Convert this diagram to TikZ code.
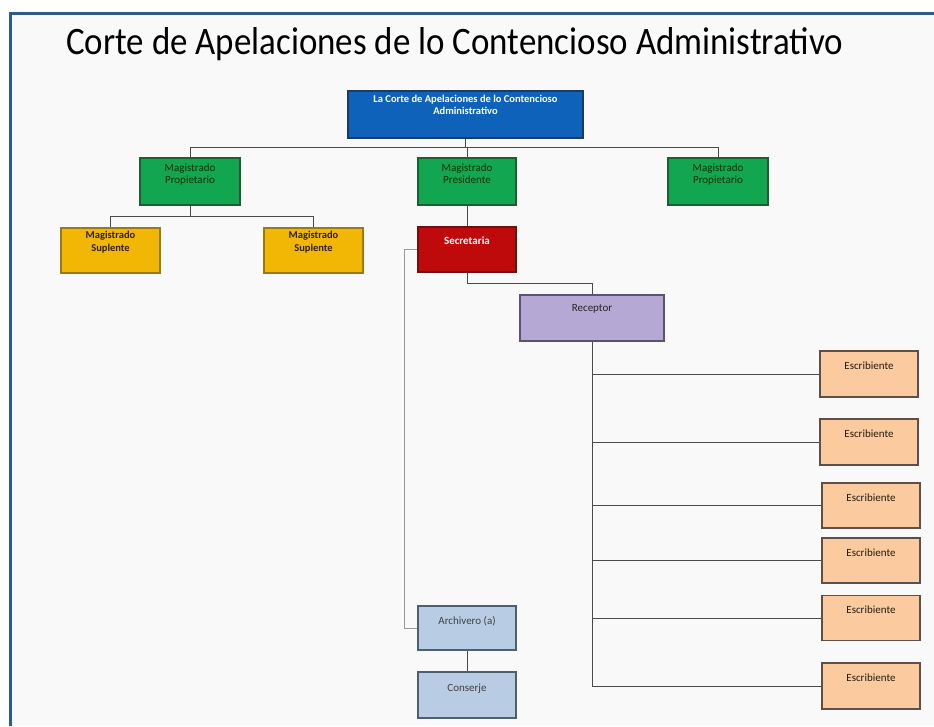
\documentclass[tikz,border=0pt]{standalone}
\usepackage{fontspec}
\setmainfont{Carlito}
\definecolor{frameblue}{HTML}{2B5C8A}
\definecolor{bgpanel}{HTML}{F9F9F9}
\definecolor{topblue}{HTML}{0E62BA}
\definecolor{topbord}{HTML}{1E3A5C}
\definecolor{mgreen}{HTML}{13A651}
\definecolor{mgreenb}{HTML}{1E5E34}
\definecolor{myellow}{HTML}{F2B705}
\definecolor{myellowb}{HTML}{9C7A10}
\definecolor{mred}{HTML}{BE0A0A}
\definecolor{mredb}{HTML}{6E1010}
\definecolor{mlav}{HTML}{B5A8D4}
\definecolor{mlavb}{HTML}{5A5470}
\definecolor{mpeach}{HTML}{FBCB9F}
\definecolor{mpeachb}{HTML}{5E5048}
\definecolor{mlblue}{HTML}{B8CDE4}
\definecolor{mlblueb}{HTML}{4F5F70}
\definecolor{conn}{HTML}{4A4A4A}
\definecolor{connlight}{HTML}{9A9A9A}
\tikzset{
  orgbox/.style={draw, line width=1.2pt, rectangle, inner sep=0pt},
  boxtxt/.style={anchor=north, inner sep=0pt, align=center, font=\fontsize{11}{12}\selectfont},
  wire/.style={draw=conn, line width=0.9pt},
  wirelight/.style={draw=connlight, line width=0.8pt}
}
\begin{document}
\begin{tikzpicture}[x=1pt,y=-1pt]
\useasboundingbox (0,0) rectangle (934,726);
\fill[white] (0,0) rectangle (934,726);
\fill[bgpanel] (11,13) rectangle (934,726);
\draw[frameblue, line width=3pt] (9,13) -- (934,13);
\draw[frameblue, line width=3pt] (10.5,11.5) -- (10.5,726);

\node[anchor=base west, inner sep=0pt] (title) at (66,54)
  {\resizebox{777pt}{27pt}{\fontsize{35}{40}\selectfont Corte de Apelaciones de lo Contencioso Administrativo}};

% boxes
\node[orgbox, fill=topblue, draw=topbord, minimum width=235pt, minimum height=47pt] (top) at (465.5,114.5) {};
\node[boxtxt, text=white, font=\bfseries\fontsize{10.5}{12}\selectfont] (toptxt) at ([yshift=-5]top.north) {La Corte de Apelaciones de lo Contencioso\\Administrativo};

\node[orgbox, fill=mgreen, draw=mgreenb, minimum width=100pt, minimum height=47pt] (g1) at (190,181.5) {};
\node[orgbox, fill=mgreen, draw=mgreenb, minimum width=98pt, minimum height=47pt] (g2) at (467,181.5) {};
\node[orgbox, fill=mgreen, draw=mgreenb, minimum width=100pt, minimum height=47pt] (g3) at (718,181.5) {};
\node[boxtxt, text=black!80!green] (g1t) at ([yshift=-6]g1.north) {Magistrado\\Propietario};
\node[boxtxt, text=black!80!green] (g2t) at ([yshift=-6]g2.north) {Magistrado\\Presidente};
\node[boxtxt, text=black!80!green] (g3t) at ([yshift=-6]g3.north) {Magistrado\\Propietario};

\node[orgbox, fill=myellow, draw=myellowb, minimum width=99pt, minimum height=45pt] (y1) at (110.5,250.5) {};
\node[orgbox, fill=myellow, draw=myellowb, minimum width=99pt, minimum height=45pt] (y2) at (313.5,250.5) {};
\node[boxtxt, text=black!75!brown, font=\bfseries\fontsize{10.5}{12.5}\selectfont] (y1t) at ([yshift=-4]y1.north) {Magistrado\\Suplente};
\node[boxtxt, text=black!75!brown, font=\bfseries\fontsize{10.5}{12.5}\selectfont] (y2t) at ([yshift=-4]y2.north) {Magistrado\\Suplente};

\node[orgbox, fill=mred, draw=mredb, minimum width=98pt, minimum height=45pt] (sec) at (467,249.5) {};
\node[boxtxt, text=white, font=\bfseries\fontsize{11}{12}\selectfont] (sect) at ([yshift=-10]sec.north) {Secretaria};

\node[orgbox, fill=mlav, draw=mlavb, minimum width=144pt, minimum height=46pt] (rec) at (592,318) {};
\node[boxtxt, text=black!85] (rect) at ([yshift=-10]rec.north) {Receptor};

\node[orgbox, fill=mpeach, draw=mpeachb, minimum width=98pt, minimum height=46pt] (e1) at (869,374) {};
\node[orgbox, fill=mpeach, draw=mpeachb, minimum width=98pt, minimum height=46pt] (e2) at (869,442) {};
\node[orgbox, fill=mpeach, draw=mpeachb, minimum width=98pt, minimum height=45pt] (e3) at (871,505.5) {};
\node[orgbox, fill=mpeach, draw=mpeachb, minimum width=98pt, minimum height=45pt] (e4) at (871,560.5) {};
\node[orgbox, fill=mpeach, draw=mpeachb, minimum width=98pt, minimum height=45pt] (e5) at (871,618) {};
\node[orgbox, fill=mpeach, draw=mpeachb, minimum width=98pt, minimum height=46pt] (e6) at (871,686) {};
\foreach \e in {e1,e2,e3,e4,e5,e6}{
  \node[boxtxt, text=black!80!brown] (\e t) at ([yshift=-11]\e.north) {Escribiente};
}

\node[orgbox, fill=mlblue, draw=mlblueb, minimum width=98pt, minimum height=44pt] (arch) at (467,628) {};
\node[orgbox, fill=mlblue, draw=mlblueb, minimum width=98pt, minimum height=46pt] (cons) at (467,695) {};
\node[boxtxt, text=black!75] (archt) at ([yshift=-11]arch.north) {Archivero (a)};
\node[boxtxt, text=black!75] (const) at ([yshift=-12]cons.north) {Conserje};

% connectors
\draw[wire] (top.south) -- (top.south |- 0,148);
\draw[wire] (g1.north) -- ++(0,-10) -| (g3.north);
\draw[wire] (g2.north) -- (g2.north |- 0,148);
\draw[wire] (g1.south) -- (g1.south |- 0,217);
\draw[wire] (y1.north) -- ++(0,-11) -| (y2.north);
\draw[wire] (g2.south) -- (sec.north);
\draw[wire] (sec.south) -- ++(0,11) -| (rec.north);
\draw[wirelight] (sec.west) -- ++(-13,0) |- (arch.west);
\draw[wire] (arch.south) -- (cons.north);
\draw[wire] (rec.south) |- (e6.west);
\foreach \e in {e1,e2,e3,e4,e5}{
  \draw[wire] (rec.south |- \e.west) -- (\e.west);
}
\end{tikzpicture}
\end{document}
